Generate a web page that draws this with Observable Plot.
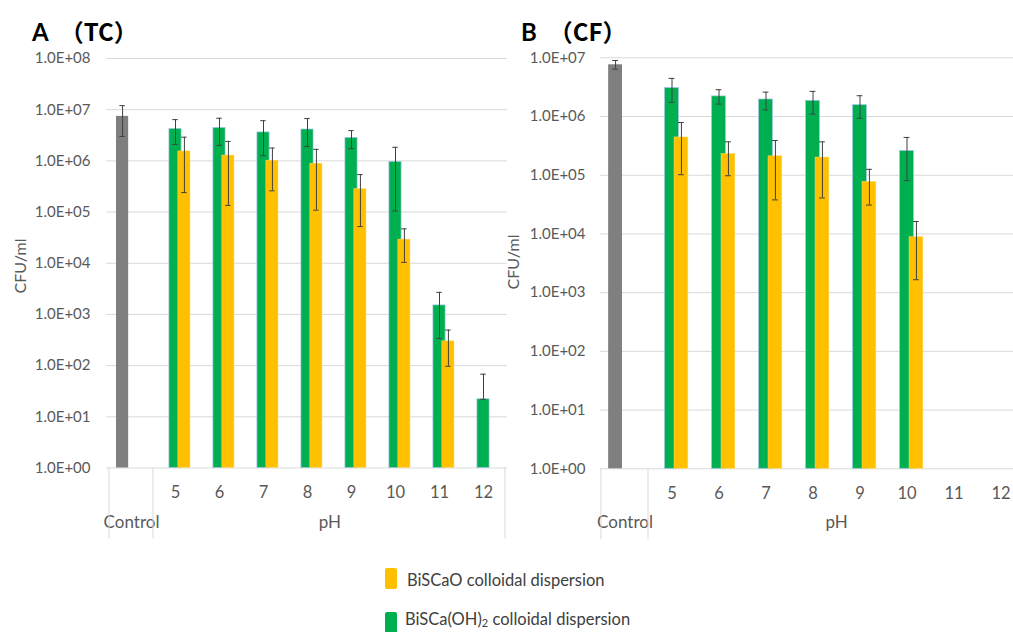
<!DOCTYPE html>
<html><head><meta charset="utf-8">
<script src="https://cdn.jsdelivr.net/npm/d3@7"></script>
<script src="https://cdn.jsdelivr.net/npm/@observablehq/plot@0.6"></script>
<style>
body{margin:0;width:1013px;height:632px;overflow:hidden;background:#fff;position:relative;font-family:Lato,"Noto Sans CJK JP",sans-serif;}
.panel{position:absolute;top:0;}
.panel svg{max-width:none !important;}
.title{position:absolute;font-weight:bold;font-size:24px;color:#000;white-space:nowrap;line-height:1;}
.title span{font-family:'Noto Sans CJK JP';margin-left:6px;}
.ylab{position:absolute;font-size:16px;color:#595959;transform:translate(-50%,-50%) rotate(-90deg);white-space:nowrap;line-height:1;}
.leg{position:absolute;font-size:16.5px;color:#404040;white-space:nowrap;line-height:20px;}
.sw{position:absolute;width:12px;height:21px;border-radius:2px;}
</style></head><body>
<div id="A" class="panel" style="left:0;width:510px"></div>
<div id="B" class="panel" style="left:500px;width:525px"></div>
<div class="title" style="left:32px;top:19px">A <span>（TC）</span></div>
<div class="title" style="left:521px;top:19px">B <span>（CF）</span></div>
<div class="ylab" style="left:20px;top:266px">CFU/ml</div>
<div class="ylab" style="left:513px;top:262px">CFU/ml</div>
<div class="sw" style="left:385px;top:568px;background:#ffc000"></div>
<div class="leg" style="left:407px;top:570px">BiSCaO colloidal dispersion</div>
<div class="sw" style="left:385px;top:612px;background:#00b050"></div>
<div class="leg" style="left:405px;top:609px">BiSCa(OH)<sub style="font-size:11px;line-height:0;vertical-align:-2px">2</sub> colloidal dispersion</div>
<script>
const categories = ["Control","5","6","7","8","9","10","11","12"];
const phLevels = categories.slice(1);
const yTicksA = [1,1e1,1e2,1e3,1e4,1e5,1e6,1e7,1e8];
const yTicksB = [1,1e1,1e2,1e3,1e4,1e5,1e6,1e7];

// Panel A (TC)
const tcControl = 7.4e6, tcControlLow = 3.0e6, tcControlHigh = 1.2e7;
const tcGreen     = [4.2e6, 4.4e6, 3.6e6, 4.1e6, 2.8e6, 9.5e5, 1.5e3, 22];
const tcGreenLow  = [2.1e6, 2.0e6, 1.26e6, 1.9e6, 1.73e6, 1.05e5, 340, 22];
const tcGreenHigh = [6.4e6, 6.8e6, 6.1e6, 6.7e6, 3.9e6, 1.84e6, 2.7e3, 68];
const tcYellow     = [1.53e6, 1.27e6, 1.01e6, 8.8e5, 2.8e5, 2.9e4, 298, null];
const tcYellowLow  = [2.4e5, 1.35e5, 2.6e5, 1.09e5, 5.2e4, 1.04e4, 97, null];
const tcYellowHigh = [2.9e6, 2.4e6, 1.78e6, 1.68e6, 5.4e5, 4.7e4, 495, null];

// Panel B (CF)
const cfControl = 7.6e6, cfControlLow = 6.4e6, cfControlHigh = 9.0e6;
const cfGreen     = [3.05e6, 2.2e6, 1.95e6, 1.85e6, 1.56e6, 2.58e5, null, null];
const cfGreenLow  = [1.74e6, 1.63e6, 1.29e6, 1.1e6, 9.3e5, 8.1e4, null, null];
const cfGreenHigh = [4.46e6, 2.86e6, 2.6e6, 2.68e6, 2.26e6, 4.4e5, null, null];
const cfYellow     = [4.4e5, 2.3e5, 2.1e5, 2.0e5, 7.7e4, 8.8e3, null, null];
const cfYellowLow  = [1.02e5, 9.8e4, 3.8e4, 4.1e4, 3.1e4, 1.66e3, null, null];
const cfYellowHigh = [7.9e5, 3.7e5, 3.9e5, 3.7e5, 1.26e5, 1.63e4, null, null];

const fmt = d => "1.0E+" + String(Math.round(Math.log10(d))).padStart(2, "0");

function panel(o) {
  const bw = (o.width - o.ml - o.mr) / categories.length;
  const off = 0.2 * bw;
  const inset = (bw - o.barW) / 2;
  const rows = (v, lo, hi) => phLevels.map((c, i) => ({cat: c, v: v[i], lo: lo[i], hi: hi[i]})).filter(d => d.v != null);
  const g = rows(o.green, o.greenLo, o.greenHi);
  const y = rows(o.yellow, o.yellowLo, o.yellowHi);
  const c = [{cat: "Control", v: o.ctrl, lo: o.ctrlLo, hi: o.ctrlHi}];
  const err = (data, dx) => [
    Plot.ruleX(data, {x: "cat", y1: "lo", y2: "hi", dx, stroke: "#404040", strokeWidth: 1}),
    Plot.tickY(data, {x: "cat", y: "lo", dx, insetLeft: bw/2 - 3, insetRight: bw/2 - 3, stroke: "#404040"}),
    Plot.tickY(data, {x: "cat", y: "hi", dx, insetLeft: bw/2 - 3, insetRight: bw/2 - 3, stroke: "#404040"})
  ];
  const svg = Plot.plot({
    width: o.width, height: o.height,
    marginLeft: o.ml, marginRight: o.mr, marginTop: o.mt, marginBottom: o.mb,
    x: {domain: categories, padding: 0, axis: null, label: null},
    y: {type: "log", domain: [1, o.ticks[o.ticks.length - 1]], axis: null, label: null},
    style: {fontFamily: "Lato, sans-serif", color: "#595959", background: "transparent", overflow: "visible", maxWidth: "none"},
    marks: [
      Plot.gridY(o.ticks, {stroke: "#d9d9d9", strokeOpacity: 1}),
      Plot.axisY(o.ticks, {tickSize: 0, tickPadding: o.ypad, tickFormat: fmt, fontSize: 15, label: null}),
      Plot.axisX(phLevels, {tickSize: 0, tickPadding: 18, fontSize: 16.5, label: null}),
      Plot.barY(c, {x: "cat", y1: 1, y2: "v", dx: -off, insetLeft: inset, insetRight: inset, fill: "#7f7f7f"}),
      Plot.barY(g, {x: "cat", y1: 1, y2: "v", insetLeft: inset, insetRight: inset, fill: "#00b050", stroke: "#9dc3e6", strokeWidth: 0.7}),
      Plot.barY(y, {x: "cat", y1: 1, y2: "v", dx: off, insetLeft: inset, insetRight: inset, fill: "#ffc000", stroke: "#ffd966", strokeWidth: 0.5}),
      ...err(c, -off), ...err(g, 0), ...err(y, off),
      Plot.text(["Control"], {x: d => d, frameAnchor: "bottom", dy: 59.5, fontSize: 17, fill: "#595959"}),
      Plot.text(["pH"], {x: () => "8", dx: bw/2, frameAnchor: "bottom", dy: 59.5, fontSize: 17, fill: "#595959"})
    ]
  });
  const xs = svg.scale("x"), ys = svg.scale("y");
  const base = ys.apply(1);
  const edges = [xs.apply("Control"), xs.apply("5"), xs.apply("12") + xs.bandwidth];
  d3.select(svg).append("g").selectAll("line").data(edges).join("line")
    .attr("x1", d => d).attr("x2", d => d).attr("y1", base).attr("y2", base + 71)
    .attr("stroke", "#d9d9d9");
  document.getElementById(o.el).append(svg);
}

panel({el: "A", width: 510, height: 545, ml: 106, mr: 3, mt: 58, mb: 77.5, ticks: yTicksA, ypad: 16, barW: 12.7,
  ctrl: tcControl, ctrlLo: tcControlLow, ctrlHi: tcControlHigh,
  green: tcGreen, greenLo: tcGreenLow, greenHi: tcGreenHigh,
  yellow: tcYellow, yellowLo: tcYellowLow, yellowHi: tcYellowHigh});
panel({el: "B", width: 525, height: 545, ml: 100, mr: 0.5, mt: 57.3, mb: 76.7, ticks: yTicksB, ypad: 15, barW: 14,
  ctrl: cfControl, ctrlLo: cfControlLow, ctrlHi: cfControlHigh,
  green: cfGreen, greenLo: cfGreenLow, greenHi: cfGreenHigh,
  yellow: cfYellow, yellowLo: cfYellowLow, yellowHi: cfYellowHigh});
</script>
</body></html>
